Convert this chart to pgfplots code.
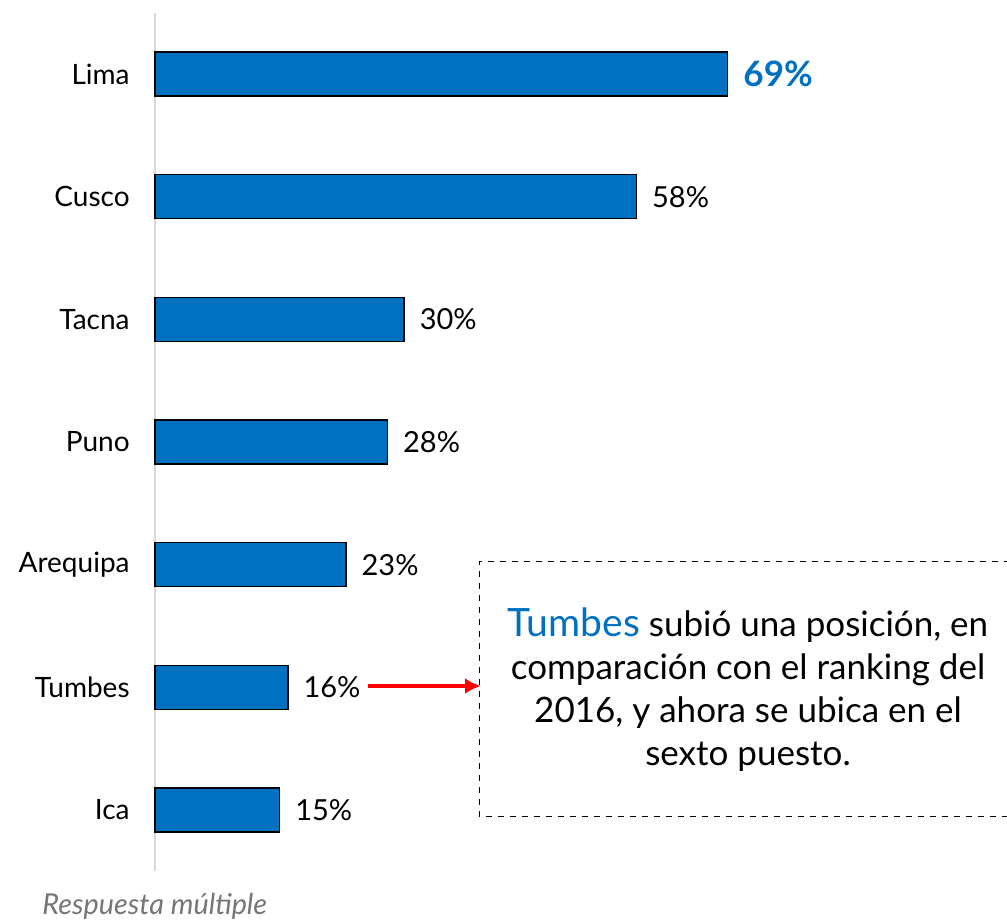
\documentclass[border=0pt]{standalone}
\usepackage{pgfplots}
\pgfplotsset{compat=1.18}
\usetikzlibrary{arrows.meta}
\usepackage{fontspec}
\setmainfont{Lato}
\definecolor{barblue}{RGB}{0,112,192}
\definecolor{axgray}{RGB}{217,217,217}
\definecolor{notegray}{RGB}{118,118,118}
\begin{document}
\begin{tikzpicture}[x=0.5pt,y=0.5pt]
\begin{axis}[
  at={(77.5pt,25.35pt)}, anchor=south west,
  scale only axis, width=415pt, height=429.3pt,
  xbar, bar width=0.359, bar shift=0pt,
  xmin=0, xmax=100, ymin=-0.5, ymax=6.5,
  axis x line=none, axis y line=left,
  y axis line style={-, draw=axgray, line width=1.2pt},
  ytick={0,...,6},
  yticklabels={Ica,Tumbes,Arequipa,Puno,Tacna,Cusco,Lima},
  major tick length=0pt,
  yticklabel style={font=\fontsize{14}{16}\selectfont, anchor=east, inner sep=0pt, xshift=-12.5pt},
  clip=false,
  nodes near coords={\pgfmathprintnumber[assume math mode=true]{\pgfplotspointmeta}\%},
  every node near coord/.append style={anchor=west, inner sep=0pt, xshift=7.5pt},
]
\addplot[fill=barblue, draw=black, line width=0.75pt,
  nodes near coords style={font=\fontsize{14.5}{16}\selectfont, text=black}]
  coordinates {(58,5) (30,4) (28,3) (23,2) (16,1) (15,0)};
\addplot[fill=barblue, draw=black, line width=0.75pt,
  nodes near coords style={font=\bfseries\fontsize{17.5}{19}\selectfont, text=barblue}]
  coordinates {(69,6)};
\end{axis}
% annotation
\draw[red, line width=2pt, -{Latex[length=8pt,width=8pt]}] (368,236) -- (481,236);
\draw[black, dashed, line width=0.5pt] (1010,360) -- (479,360) -- (479,106) -- (1010,106);
\node[align=center, font=\fontsize{17.5}{21.5}\selectfont, inner sep=0pt] at (748,232)
  {{\color{barblue}\fontsize{19.5}{21.5}\selectfont Tumbes} subió una posición, en\\
   comparación con el ranking del\\
   2016, y ahora se ubica en el\\
   sexto puesto.};
\node[anchor=base west, inner sep=0pt, font=\itshape\fontsize{14.4}{16}\selectfont, text=notegray] at (42,8) {Respuesta múltiple};
\pgfresetboundingbox
\useasboundingbox (0,0) rectangle (1007,922);
\end{tikzpicture}
\end{document}
